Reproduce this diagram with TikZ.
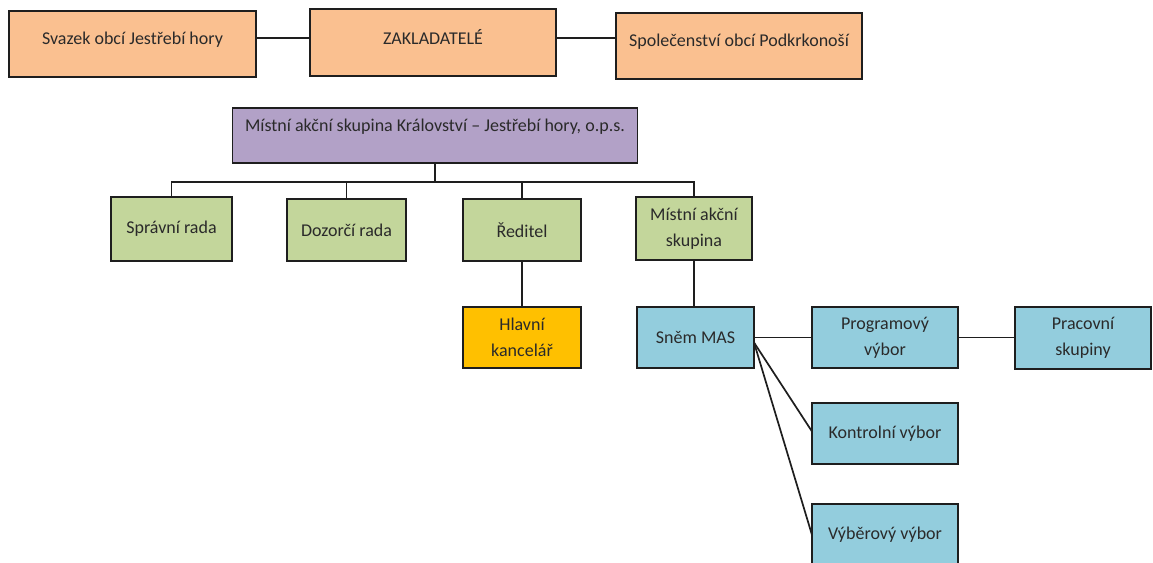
\documentclass[tikz,border=0pt]{standalone}
\usepackage{fontspec}
\setmainfont{Carlito}
\definecolor{zaklfill}{HTML}{FAC090}
\definecolor{opsfill}{HTML}{B2A1C7}
\definecolor{organfill}{HTML}{C3D69B}
\definecolor{masfill}{HTML}{93CDDD}
\definecolor{kancfill}{HTML}{FFC000}
\definecolor{boxline}{HTML}{1E1E1E}
\definecolor{boxtext}{HTML}{2A2A2A}

\begin{document}
\begin{tikzpicture}[x=1pt,y=-1pt,
    orgbox/.style={draw=boxline,line width=1.8pt,inner sep=0pt,outer sep=0pt,align=center,
      text=boxtext,font=\fontsize{18}{26}\selectfont},
    zaklbox/.style={orgbox,fill=zaklfill,text depth=12pt},
    opsbox/.style={orgbox,fill=opsfill,text depth=21pt},
    organbox/.style={orgbox,fill=organfill},
    kancbox/.style={orgbox,fill=kancfill},
    masbox/.style={orgbox,fill=masfill},
    link/.style={draw=boxline,line width=1.7pt}]
        \fill[white] (0,0) rectangle (1153,562);
        \useasboundingbox (0,0) rectangle (1153,562);

        \node[zaklbox,minimum width=247,minimum height=66] (svazek) at (132.5,44) {Svazek obcí Jestřebí hory};
        \node[zaklbox,minimum width=246,minimum height=67] (zaklad) at (433,42.5) {ZAKLADATELÉ};
        \node[zaklbox,minimum width=246,minimum height=66] (spolec) at (739,46) {Společenství obcí Podkrkonoší};

        \node[opsbox,minimum width=405,minimum height=55] (ops) at (435,135.5) {Místní akční skupina Království – Jestřebí hory, o.p.s.};

        \node[organbox,minimum width=121,minimum height=64] (spravni) at (171.5,229) {Správní rada};
        \node[organbox,minimum width=119,minimum height=62] (dozorci) at (346.5,230) {Dozorčí rada};
        \node[organbox,minimum width=118,minimum height=62] (reditel) at (522,230) {Ředitel};
        \node[organbox,minimum width=116,minimum height=63] (akcni) at (694,228.5) {Místní akční\\skupina};

        \node[kancbox,minimum width=118,minimum height=61] (hlavni) at (522,337.5) {Hlavní\\kancelář};

        \node[masbox,minimum width=117,minimum height=61] (snem) at (695.5,337.5) {Sněm MAS};
        \node[masbox,minimum width=146,minimum height=61] (program) at (885,337.5) {Programový\\výbor};
        \node[masbox,minimum width=136,minimum height=62] (pracovni) at (1083,338) {Pracovní\\skupiny};
        \node[masbox,minimum width=146,minimum height=61] (kontrol) at (885,433.5) {Kontrolní výbor};
        \node[masbox,minimum width=146,minimum height=62] (vyber) at (885,535) {Výběrový výbor};

        \coordinate (topline) at ([yshift=6pt]svazek.east);
        \draw[link] (topline) -- (topline -| zaklad.west);
        \draw[link] (topline -| zaklad.east) -- (topline -| spolec.west);

        \coordinate (bus) at ([yshift=-19pt]ops.south);
        \draw[link] (ops.south) -- (bus);
        \draw[link] (spravni.north) |- (bus) -| (akcni.north);
        \draw[link] (dozorci.north) -- (dozorci.north |- bus);
        \draw[link] (reditel.north) -- (reditel.north |- bus);

        \draw[link] (reditel.south) -- (hlavni.north);
        \draw[link] (akcni.south) -- (akcni.south |- snem.north);

        \draw[link] (snem.east) -- (program.west);
        \draw[link] (program.east) -- (program.east -| pracovni.west);
        \draw[link] ([yshift=-5pt]snem.east) -- ([yshift=2pt]kontrol.west);
        \draw[link] ([yshift=-5pt]snem.east) -- (vyber.west);
      \end{tikzpicture}
\end{document}
